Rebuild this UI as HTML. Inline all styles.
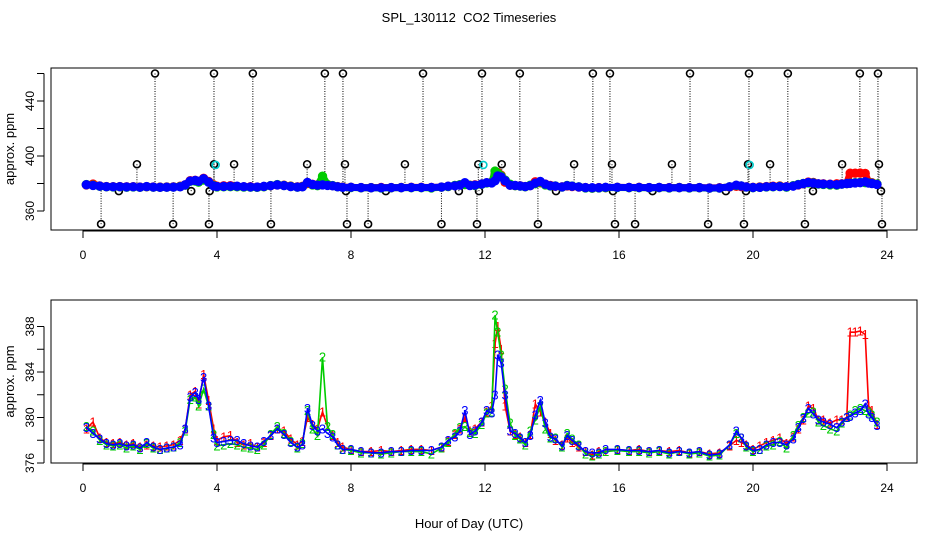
<!DOCTYPE html>
<html><head><meta charset="utf-8"><style>
body{margin:0;background:#fff}
svg{display:block;font-family:"Liberation Sans",sans-serif}
</style></head><body>
<svg id="c" width="936" height="540" viewBox="0 0 936 540" xmlns="http://www.w3.org/2000/svg">
<rect width="936" height="540" fill="#fff"/>
<text x="469" y="22" font-size="13" text-anchor="middle">SPL_130112 &#160;CO2 Timeseries</text>
<g id="topPanel"></g>
<g id="botPanel"></g>
<text x="469" y="528" font-size="13" text-anchor="middle">Hour of Day (UTC)</text>
</svg>
<script>
const times=[0.1,0.3,0.5,0.7,0.9,1.1,1.3,1.5,1.7,1.9,2.1,2.3,2.5,2.7,2.9,3.05,3.2,3.35,3.45,3.6,3.75,3.9,4.0,4.2,4.4,4.6,4.8,5.0,5.2,5.4,5.6,5.8,6.0,6.2,6.4,6.55,6.7,6.85,7.0,7.15,7.3,7.45,7.6,7.75,8.0,8.3,8.6,8.9,9.2,9.5,9.8,10.1,10.4,10.7,10.9,11.1,11.25,11.4,11.55,11.7,11.9,12.05,12.2,12.3,12.38,12.48,12.6,12.75,12.9,13.05,13.2,13.35,13.5,13.65,13.8,13.95,14.1,14.3,14.45,14.6,14.8,15.0,15.2,15.4,15.6,15.95,16.3,16.6,16.9,17.2,17.5,17.8,18.1,18.4,18.7,19.0,19.3,19.5,19.65,19.8,20.0,20.2,20.4,20.6,20.8,21.0,21.2,21.35,21.5,21.65,21.8,21.95,22.1,22.3,22.5,22.65,22.8,22.9,23.05,23.2,23.35,23.45,23.55,23.7];
const sensor1=[379.0,379.6,378.2,377.8,377.7,377.8,377.6,377.7,377.4,377.6,377.5,377.4,377.5,377.6,378.0,379.0,382.0,382.3,381.2,383.8,381.5,379.0,378.0,378.3,378.4,377.8,377.6,377.7,377.4,377.8,378.4,379.0,378.8,378.1,377.6,377.9,380.0,379.4,379.0,380.5,379.2,378.4,377.8,377.4,377.2,377.0,377.0,377.1,377.0,377.1,377.2,377.2,377.1,377.4,377.9,378.5,379.0,380.0,378.8,379.0,379.6,380.5,381.0,386.5,388.0,386.0,381.0,378.8,378.5,378.3,377.8,378.5,381.2,380.5,379.6,378.6,378.0,377.6,378.2,377.8,377.4,377.0,376.7,377.0,377.0,377.2,377.1,377.2,377.0,377.1,377.0,377.1,376.9,377.0,376.8,376.9,377.5,378.0,377.8,377.6,377.2,377.5,377.8,378.0,378.2,377.7,378.3,379.0,379.8,381.0,380.8,379.8,379.8,379.5,379.8,379.8,380.0,387.5,387.5,387.6,387.3,381.0,380.6,379.4];
const sensor2=[379.2,378.8,378.0,377.6,377.5,377.6,377.3,377.5,377.2,377.7,377.3,377.2,377.3,377.4,377.8,378.8,381.6,381.8,381.0,382.5,381.0,378.5,377.5,377.6,377.7,377.6,377.4,377.3,377.2,377.6,378.5,379.2,378.6,377.9,377.3,377.7,380.6,379.0,378.4,385.3,379.2,378.5,377.6,377.2,377.1,376.9,376.9,376.8,376.9,377.0,377.0,377.0,376.8,377.3,377.8,378.6,379.1,379.2,378.7,378.6,379.4,380.4,380.5,389.0,387.5,385.5,382.5,379.5,378.4,378.1,377.6,378.8,379.8,381.0,379.0,378.2,378.2,377.4,378.6,378.1,377.6,376.8,376.6,376.8,377.0,377.1,377.0,377.0,376.9,377.0,376.8,377.0,376.8,376.9,376.6,376.7,377.6,378.6,378.2,377.4,377.0,377.2,377.5,377.6,377.9,377.3,378.4,379.3,380.0,380.4,380.5,379.6,379.3,379.0,378.8,379.5,380.0,380.2,380.6,380.8,380.6,380.5,380.2,379.6];
const sensor3=[379.1,378.6,378.1,377.7,377.6,377.7,377.5,377.6,377.3,377.8,377.4,377.2,377.3,377.4,377.6,379.0,381.8,382.2,381.6,383.5,381.0,378.2,377.8,377.9,378.0,378.0,377.7,377.5,377.4,377.9,378.4,379.0,378.5,377.8,377.4,377.6,380.8,379.3,378.8,379.0,378.6,378.3,377.6,377.2,377.2,377.0,376.9,376.9,377.0,377.0,377.1,377.1,377.1,377.4,378.0,378.3,378.8,380.6,378.5,378.8,379.6,380.6,380.4,382.0,385.5,384.8,382.0,378.8,378.6,378.2,377.8,378.4,380.2,381.5,379.5,378.3,378.1,377.5,378.4,378.0,377.5,377.0,376.9,376.9,377.2,377.2,377.1,377.1,377.0,377.1,376.9,377.0,376.9,377.0,376.7,376.8,377.6,378.8,378.2,377.5,377.1,377.2,377.6,377.8,377.8,377.6,378.1,379.1,379.9,380.8,380.3,379.8,379.6,379.4,379.1,379.6,380.0,380.1,380.4,380.6,381.2,380.3,380.0,379.3];
const outlierHighHours=[2.15,3.91,5.07,7.22,7.76,10.15,11.91,13.04,15.22,15.73,18.12,19.88,21.04,23.19,23.73];
const outlierHighValue=460;
const outlierMidHours=[1.61,3.91,4.51,6.69,7.82,9.61,11.80,12.50,14.66,15.79,17.58,19.85,20.51,22.66,23.76];
const outlierMidValue=394;
const outlierLowHours=[1.07,3.23,3.78,7.85,9.04,11.22,11.82,14.12,15.82,17.00,19.19,19.79,21.79,23.82];
const outlierLowValue=374.5;
const outlierBottomHours=[0.54,2.69,3.76,5.61,7.88,8.51,10.70,11.76,13.58,15.88,16.48,18.66,19.73,21.55,23.85];
const outlierBottomValue=350.5;
const cyanHours=[3.96,11.95,19.9];
const cyanValue=393.5;
const xTicks=[0,4,8,12,16,20,24];
const topYTicks=[360,380,400,420,440,460];
const topYLabels=[360,400,440];
const botYTicks=[376,378,380,382,384,386,388];
const botYLabels=[376,380,384,388];
const baseline=378;

const NS="http://www.w3.org/2000/svg";
const X0=51,X1=917;
const xs=h=>83+h*33.5;
const yTop=v=>211-(v-360)*1.375;
const yBot=v=>463-(v-376)*11.375;
function mk(tag,attrs,parent){const e=document.createElementNS(NS,tag);for(const k in attrs)e.setAttribute(k,attrs[k]);parent.appendChild(e);return e;}
function axes(g,y0,y1,yf,ticks,labels,prefix){
  const box=mk('rect',{x:X0,y:y0,width:X1-X0,height:y1-y0,fill:'none',stroke:'#000','stroke-width':1},g);
  
  
  const ax=mk('g',{},g);
  
  
  mk('line',{x1:xs(0),x2:xs(24),y1:y1+1,y2:y1+1,stroke:'#000'},ax);
  xTicks.forEach(t=>{
    mk('line',{x1:xs(t),x2:xs(t),y1:y1,y2:y1+8,stroke:'#000'},ax);
    const tx=mk('text',{x:xs(t),y:y1+29,'font-size':12,'text-anchor':'middle'},ax);
    tx.textContent=t;
    
    
  });
  const ay=mk('g',{},g);
  
  
  mk('line',{x1:X0-7,x2:X0-7,y1:yf(ticks[0]),y2:yf(ticks[ticks.length-1]),stroke:'#000'},ay);
  ticks.forEach(t=>mk('line',{x1:X0-14,x2:X0-7,y1:yf(t),y2:yf(t),stroke:'#000'},ay));
  labels.forEach(t=>{
    const tx=mk('text',{x:0,y:0,'font-size':12,'text-anchor':'middle',transform:`translate(${X0-17},${yf(t)}) rotate(-90)`},ay);
    tx.textContent=t;
    
    
  });
  const yl=mk('text',{x:0,y:0,'font-size':13,'text-anchor':'middle',transform:`translate(14,${(y0+y1)/2}) rotate(-90)`},g);
  yl.textContent='approx. ppm';
  
  
}
const topG=document.getElementById('topPanel'),botG=document.getElementById('botPanel');
axes(topG,68,230,yTop,topYTicks,topYLabels,'top');
axes(botG,300,463,yBot,botYTicks,botYLabels,'bottom');

const og=mk('g',{},topG);


const outlierSets=[[outlierHighHours,outlierHighValue],[outlierMidHours,outlierMidValue],[outlierLowHours,outlierLowValue],[outlierBottomHours,outlierBottomValue]];
outlierSets.forEach(([hs,v])=>{
  hs.forEach(h=>{
    mk('line',{x1:xs(h),x2:xs(h),y1:yTop(v),y2:yTop(baseline),stroke:'#000','stroke-dasharray':'1,1.5','stroke-width':1},og);
  });
});
outlierSets.forEach(([hs,v])=>{
  hs.forEach(h=>{
    const c=mk('circle',{cx:xs(h),cy:yTop(v),r:3.5,fill:'none',stroke:'#000','stroke-width':1.6},og);
    
    
  });
});
const series=[[sensor1,'#f00','1'],[sensor2,'#0c0','2'],[sensor3,'#00f','3']];
series.forEach(([vals,col,lab])=>{
  const g=mk('g',{},topG);
  
  
  const pts=vals.map((v,i)=>xs(times[i]).toFixed(1)+','+yTop(v).toFixed(1)).join(' ');
  const band=mk('polyline',{points:pts,fill:'none',stroke:col,'stroke-width':7,'stroke-linejoin':'round','stroke-linecap':'round'},g);
  
  
  vals.forEach((v,i)=>{
    const c=mk('circle',{cx:xs(times[i]),cy:yTop(v),r:3.6,fill:'none',stroke:col,'stroke-width':2.2},g);
    
    
  });
});
cyanHours.forEach(h=>{
  const c=mk('circle',{cx:xs(h),cy:yTop(cyanValue),r:3.5,fill:'none',stroke:'#0cc','stroke-width':1.6},topG);
  
  
});
series.forEach(([vals,col,lab])=>{
  const g=mk('g',{},botG);
  
  
  const pts=vals.map((v,i)=>xs(times[i]).toFixed(1)+','+yBot(v).toFixed(1)).join(' ');
  const pl=mk('polyline',{points:pts,fill:'none',stroke:col,'stroke-width':1.6},g);
  
  
  vals.forEach((v,i)=>{
    const t=mk('text',{x:xs(times[i]),y:yBot(v)+4.5,'font-size':13,'text-anchor':'middle',fill:col},g);
    t.textContent=lab;
    
    
  });
});
</script>
</body></html>
